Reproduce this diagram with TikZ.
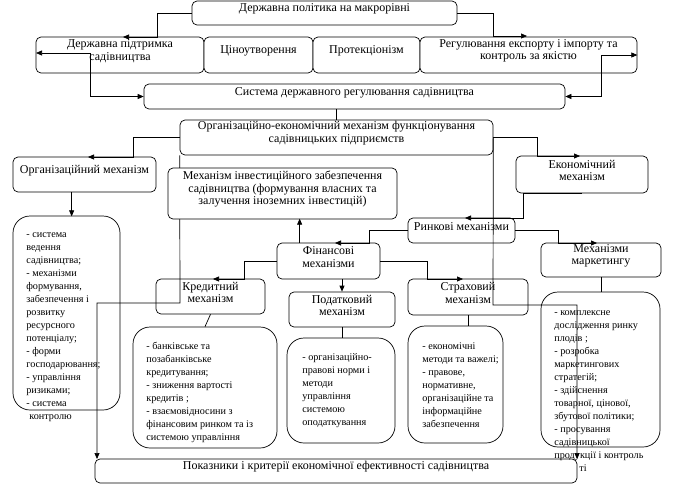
\documentclass[tikz,border=0pt]{standalone}
\usepackage{fontspec}
\setmainfont{Liberation Serif}
\usetikzlibrary{arrows.meta,fit,calc}
\begin{document}
\begin{tikzpicture}[x=1pt,y=-1pt,
  line width=0.7pt,
  box/.style={draw, rounded corners=5pt, fill=white, inner sep=0pt, align=center,
    font=\fontsize{12}{12.5}\selectfont},
  lbox/.style={draw, rounded corners=17pt, inner sep=0pt},
  ltext/.style={anchor=north west, inner sep=0pt, align=left,
    font=\fontsize{10.2}{13}\selectfont},
  arr/.style={-{Triangle[length=6pt,width=5pt]}},
  darr/.style={{Triangle[length=6pt,width=5pt]}-{Triangle[length=6pt,width=5pt]}}]
\useasboundingbox[fill=white] (0,0) rectangle (673,485);

% top level
\node[box, fit={(192,1) (457,25)}] (top) {Державна політика на макрорівні};
\node[box, fit={(36,37) (204,73)}] (dp) {Державна підтримка\\садівництва};
\node[box, fit={(204,37) (313,73)}] (cin) {Ціноутворення};
\node[box, fit={(313,37) (420,73)}] (prot) {Протекціонізм};
\node[box, fit={(420,37) (637,73)}] (reg) {Регулювання експорту і імпорту та\\контроль за якістю};
\node[box, fit={(144,84) (565,109)}] (sys) {Система державного регулювання садівництва};
\node[box, fit={(180,120) (493,155)}] (oem) {Організаційно-економічний механізм функціонування\\садівницьких підприємств};
\node[box, fit={(13,157) (156,192)}] (org) {Організаційний механізм};
\node[box, fit={(516,156) (648,193)}] (eco) {Економічний\\механізм};
\node[box, fit={(408,218) (515,243)}] (rin) {Ринкові механізми};
\node[box, fit={(277,243) (380,279)}] (fin) {Фінансові\\механізми};
\node[box, fit={(541,243) (661,277)}] (mar) {Механізми\\маркетингу};
\node[box, fit={(156,279) (265,314)}] (kre) {Кредитний\\механізм};
\node[box, fit={(289,292) (395,327)}] (pod) {Податковий\\механізм};
\node[box, fit={(408,279) (528,315)}] (str) {Страховий\\механізм};
\node[box, fit={(95,459) (577,483)}] (pok) {Показники і критерії економічної ефективності садівництва};

% bullet boxes
\node[lbox, fit={(13,216) (120,410)}] (orgl) {};
\node[lbox, fit={(133,327) (277,448)}] (krel) {};
\node[lbox, fit={(287,338) (395,443)}] (podl) {};
\node[lbox, fit={(408,326) (503,443)}] (strl) {};
\node[lbox, fit={(541,292) (660,447)}] (marl) {};

\node[ltext] (t1) at (26,232) {- система\\ведення\\садівництва;\\- механізми\\формування,\\забезпечення і\\розвитку\\ресурсного\\потенціалу;\\- форми\\господарювання;\\- управління\\ризиками;\\- система\\\hspace*{3pt}контролю};
\node[ltext] (t2) at (146,342) {- банківське та\\позабанківське\\кредитування;\\- зниження вартості\\кредитів ;\\- взаємовідносини з\\фінансовим ринком та із\\системою управління};
\node[ltext] (t3) at (302,353) {- організаційно-\\правові норми і\\методи\\управління\\системою\\оподаткування};
\node[ltext] (t4) at (422,342) {- економічні\\методи та важелі;\\- правове,\\нормативне,\\організаційне та\\інформаційне\\забезпечення};
\node[ltext] (t5) at (554,310) {- комплексне\\дослідження ринку\\плодів ;\\- розробка\\маркетингових\\стратегій;\\- здійснення\\товарної, цінової,\\збутової політики;\\- просування\\садівницької\\продукції і контроль\\\hspace*{25pt}ті};

% left long line (hidden behind investment box)
\draw[arr] (oem.south west) -- (180,303) -- (97,303) -- (97,459);
\node[box, fit={(168,168) (397,219)}] (inv) {Механізм інвестиційного забезпечення\\садівництва (формування власних та\\залучення іноземних інвестицій)};

% connectors
\draw[arr] (top.west) -| (157,37) -- (123,37);
\draw[arr] (top.east) -| (493,36) -- (527,36);
\draw[darr] (36,53) -- (90,53) |- (sys.west);
\draw[darr] (reg.east) -- (601,55) |- (sys.east);
\draw (sys.south -| oem.north) -- (oem.north);
\draw[arr] (oem.west) -| (133,157) -- (88,157);
\draw[arr] (oem.east) -| (537,156) -- (580,156);
\draw[arr] (org.south west) ++(59,0) -- ++(0,24);
\draw[arr] (oem.east) -- (493,305) -- (577,305) -- (577,459);
\draw[arr] (582,193) -- (523,193) -- (523,218) -- (465,218);
\draw[arr] (rin.west) -| (369,243) -- (335,243);
\draw[arr] (rin.east) -| (558,243) -- (597,243);
\draw[arr] (fin.north west) ++(23,0) -- ++(0,-24);
\draw[arr] (fin.west) -| (244,279) -- (213,279);
\draw[arr] (pod.north |- fin.south) -- (pod.north);
\draw[arr] (fin.east) -| (427,279) -- (463,279);
\draw (kre.south) -- (krel.north);
\draw (pod.south) -- (pod.south |- podl.north);
\draw (str.south) -- (str.south |- strl.north);
\draw (mar.south) -- (mar.south |- marl.north);
\end{tikzpicture}
\end{document}
